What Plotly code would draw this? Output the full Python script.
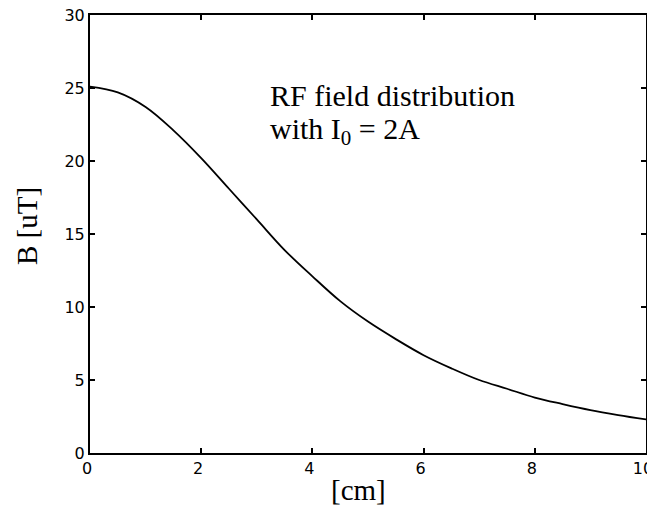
import plotly.graph_objects as go

x_cm = [0, 0.5, 1, 1.5, 2, 2.5, 3, 3.5, 4, 4.5, 5, 5.5, 6, 6.5, 7, 7.5, 8, 8.5, 9, 9.5, 10]
b_uT = [25.1, 24.7, 23.7, 22.1, 20.2, 18.1, 16.0, 13.9, 12.1, 10.4, 9.0, 7.8, 6.7, 5.8, 5.0, 4.4, 3.8, 3.35, 2.94, 2.6, 2.3]
x_ticks = [0, 2, 4, 6, 8, 10]
y_ticks = [0, 5, 10, 15, 20, 25, 30]

# plot area in page pixels: left 90, right 646, top 15, bottom 453 ; body margin 8px
PL, PR, PT, PB = 90, 646, 15, 453
PW, PH = PR - PL, PB - PT
FW, FH = 647, 498

fig = go.Figure()
fig.add_trace(go.Scatter(x=x_cm, y=b_uT, mode="lines", line=dict(color="black", width=1.8, shape="spline"),
                         showlegend=False, hoverinfo="skip"))

axis_common = dict(showgrid=False, zeroline=False, showline=True, linecolor="black", linewidth=2,
                   mirror="ticks", ticks="inside", ticklen=5, tickwidth=1.5, tickcolor="black",
                   ticklabeloverflow="allow", automargin=False,
                   tickfont=dict(family="DejaVu Sans", size=16, color="black"))
fig.update_xaxes(range=[0, 10], tickvals=x_ticks, ticklabelshift=-3, **axis_common)
fig.update_yaxes(range=[0, 30], tickvals=y_ticks, **axis_common)

def px(xp):
    return (xp - PL) / PW

def py(yp):
    return (PB - yp) / PH

serif = dict(family="Liberation Serif", size=30, color="black")
fig.add_annotation(text="RF field distribution", xref="paper", yref="paper", x=px(268), y=py(96),
                   xanchor="left", yanchor="middle", showarrow=False, font=serif)
fig.add_annotation(text="with I<sub>0</sub> = 2A", xref="paper", yref="paper", x=px(268), y=py(131),
                   xanchor="left", yanchor="middle", showarrow=False, font=serif)
fig.add_annotation(text="[cm]", xref="paper", yref="paper", x=px(358), y=py(490),
                   xanchor="center", yanchor="middle", showarrow=False, font=dict(family="Liberation Serif", size=29, color="black"))
fig.add_annotation(text="B [uT]", xref="paper", yref="paper", x=px(27), y=py(226),
                   xanchor="center", yanchor="middle", showarrow=False, textangle=-90,
                   font=dict(family="Liberation Serif", size=29, color="black"))

fig.update_layout(width=FW, height=FH, margin=dict(l=PL - 8, r=FW + 8 - PR, t=PT - 8, b=FH + 8 - PB),
                  paper_bgcolor="white", plot_bgcolor="white")
fig.write_html("out.html")
